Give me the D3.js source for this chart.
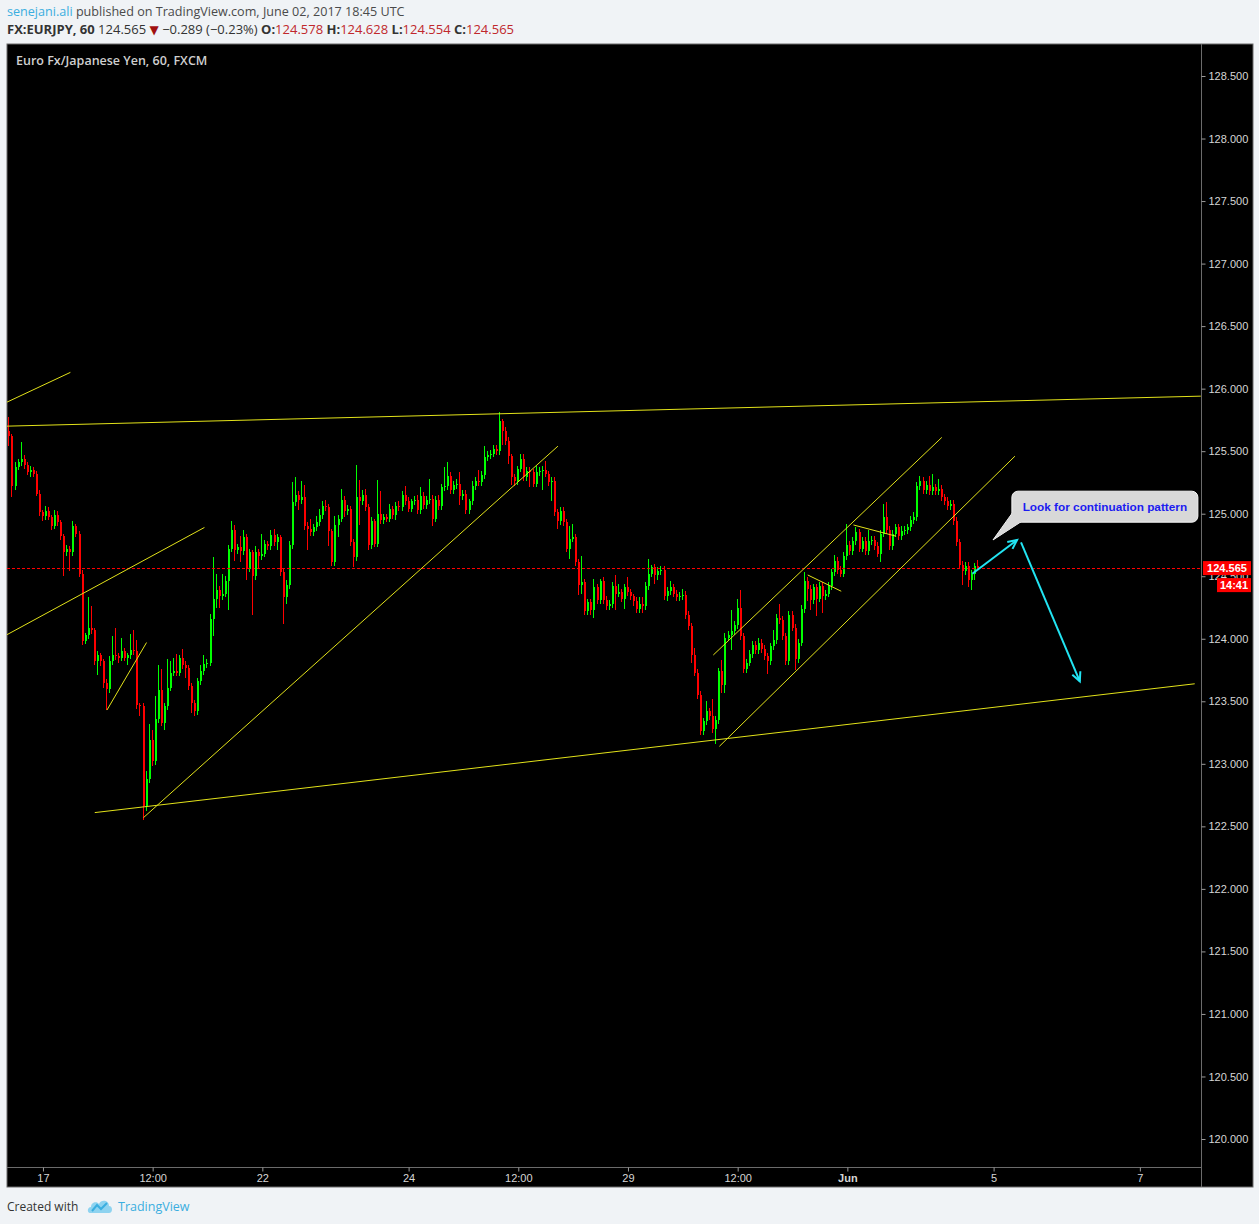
<!DOCTYPE html>
<html>
<head>
<meta charset="utf-8">
<script src="https://cdn.jsdelivr.net/npm/d3@7"></script>
<style>
body { margin: 0; background: #f0f3f6; }
svg { display: block; }
</style>
</head>
<body>
<svg id="chart"></svg>
<script>
// EUR/JPY hourly candles, 16 May 12:00 -> 2 Jun 19:00 (one value per hour)
var firstOpen = 125.60;
var closes = [
  125.66,125.62,125.22,125.37,125.41,125.44,125.39,125.33,125.35,125.32,
  125.16,125.01,124.98,125.02,124.97,124.90,124.99,124.93,124.82,124.69,
  124.72,124.69,124.90,124.84,124.52,123.98,124.03,124.09,124.07,123.82,
  123.87,123.82,123.65,123.60,123.82,123.87,123.86,123.85,123.90,123.85,
  123.87,123.91,123.90,123.47,123.46,122.66,122.88,123.19,123.02,123.36,
  123.59,123.33,123.46,123.61,123.73,123.74,123.73,123.85,123.79,123.77,
  123.62,123.49,123.42,123.66,123.74,123.80,123.81,124.16,124.32,124.39,
  124.34,124.36,124.46,124.72,124.87,124.71,124.73,124.70,124.81,124.56,
  124.69,124.50,124.69,124.66,124.68,124.76,124.74,124.83,124.77,124.81,
  124.53,124.33,124.43,124.75,125.09,125.15,125.11,125.13,124.90,124.88,
  124.85,124.89,124.93,124.99,125.06,125.05,124.86,124.61,124.91,124.96,
  125.11,125.02,125.04,124.77,124.65,125.13,125.10,125.15,125.05,124.75,
  124.94,124.76,125.00,124.95,124.97,124.96,125.04,124.99,125.06,125.05,
  125.15,125.10,125.04,125.10,125.11,125.03,125.14,125.07,125.11,125.12,
  124.96,125.11,125.06,125.21,125.22,125.30,125.19,125.23,125.24,125.14,
  125.16,125.03,125.10,125.22,125.26,125.25,125.31,125.45,125.47,125.48,
  125.52,125.50,125.74,125.66,125.58,125.46,125.29,125.26,125.36,125.44,
  125.29,125.34,125.33,125.24,125.33,125.34,125.35,125.32,125.25,125.26,
  125.01,124.94,125.02,124.93,124.72,124.80,124.81,124.61,124.43,124.45,
  124.22,124.29,124.23,124.41,124.31,124.46,124.31,124.26,124.28,124.42,
  124.36,124.37,124.32,124.41,124.37,124.34,124.30,124.24,124.28,124.26,
  124.42,124.52,124.57,124.51,124.54,124.55,124.34,124.38,124.41,124.36,
  124.33,124.34,124.35,124.19,124.10,123.87,123.73,123.55,123.26,123.34,
  123.42,123.38,123.28,123.35,123.74,123.63,124.01,124.03,124.06,124.11,
  124.25,124.02,123.76,123.81,123.88,123.95,123.91,123.97,123.92,123.86,
  123.82,123.94,123.99,124.17,124.15,124.02,123.82,124.19,124.09,123.84,
  123.97,124.24,124.46,124.40,124.31,124.41,124.32,124.42,124.34,124.36,
  124.42,124.53,124.62,124.55,124.52,124.66,124.75,124.70,124.78,124.85,
  124.72,124.78,124.70,124.78,124.79,124.74,124.68,124.84,124.97,124.87,
  124.74,124.84,124.89,124.82,124.86,124.87,124.89,124.95,124.97,125.22,
  125.26,125.19,125.23,125.18,125.21,125.18,125.20,125.13,125.10,125.06,
  125.08,124.94,124.77,124.59,124.54,124.58,124.47,124.52,124.578,124.565
];
// wick lengths in pips (0.01) above / below each body
var wickUp = [
  14,11,2,4,3,13,3,2,3,2,2,3,2,4,3,2,4,3,2,2,
  3,2,4,2,2,3,2,24,17,2,3,2,2,3,4,15,22,3,11,3,
  2,13,16,9,2,3,6,13,8,18,20,17,3,23,9,11,14,2,7,3,
  2,3,2,3,5,7,3,4,33,13,3,16,4,3,7,4,3,9,6,3,
  3,2,5,3,16,3,2,4,5,3,2,3,4,3,16,14,3,13,10,3,
  8,3,5,5,4,5,3,2,7,3,9,3,3,2,3,26,14,4,5,3,
  3,2,27,18,3,3,4,2,3,4,3,7,3,2,3,4,7,3,3,16,
  3,3,4,3,15,11,3,3,4,9,3,3,2,4,3,9,3,9,3,3,
  3,3,7,2,3,3,2,3,2,4,4,3,3,3,5,3,3,7,2,3,
  3,3,3,3,3,10,11,3,3,21,3,3,3,7,3,2,3,3,3,3,
  9,7,3,3,8,3,2,3,5,5,3,12,2,3,3,3,3,3,5,3,
  3,3,5,3,3,3,6,3,3,3,8,3,14,3,3,9,4,3,17,3,
  7,14,3,3,3,3,3,4,3,3,3,3,8,3,11,3,3,3,3,3,
  3,3,7,3,3,3,3,3,3,3,3,3,5,3,3,3,17,3,3,4,
  3,3,3,9,3,3,3,3,11,12,3,3,3,3,4,3,3,3,4,3,
  4,3,3,7,11,3,8,3,3,3,3,3,3,3,3,3,3,3,3,5
];
var wickDn = [
  7,8,9,3,2,3,3,2,4,3,2,3,4,3,2,3,2,3,3,19,
  3,15,3,3,3,3,2,3,3,3,11,4,4,17,3,3,3,4,3,3,
  6,3,3,3,8,11,4,3,4,3,3,3,6,3,3,3,3,3,3,8,
  3,8,4,3,3,3,3,3,14,7,9,3,3,23,3,9,3,9,3,9,
  3,31,3,10,3,3,3,3,3,6,3,21,5,3,3,3,8,3,3,17,
  3,3,3,3,3,3,12,3,3,10,3,5,3,3,8,3,19,3,3,4,
  3,3,3,3,3,3,3,3,4,3,3,3,3,3,3,3,3,3,3,3,
  6,3,3,3,3,3,3,3,3,7,3,3,3,3,3,3,3,3,3,3,
  3,3,3,11,3,6,6,4,3,3,3,3,12,3,3,3,15,3,3,15,
  3,6,3,3,3,8,3,3,8,7,3,3,4,6,3,3,3,3,3,3,
  13,3,3,8,3,3,4,3,3,5,3,3,3,7,4,3,3,4,3,3,
  3,3,3,3,3,6,3,3,3,3,3,3,3,12,3,6,6,3,12,3,
  3,3,3,3,3,3,3,3,3,3,10,3,3,3,3,3,3,3,3,9,
  3,3,3,10,8,3,14,3,13,3,3,3,3,3,3,3,3,3,3,3,
  3,3,3,3,3,3,3,7,3,3,3,3,3,3,3,3,3,3,3,3,
  3,3,3,3,3,3,3,3,3,3,3,3,3,3,11,3,6,8,5,1
];

var priceTicks = [120.0,120.5,121.0,121.5,122.0,122.5,123.0,123.5,124.0,124.5,
                  125.0,125.5,126.0,126.5,127.0,127.5,128.0,128.5];
var timeTickIdx = [12, 48, 84, 132, 168, 204, 240, 276, 324, 372];
var timeTickLabels = ["17","12:00","22","24","12:00","29","12:00","Jun","5","7"];
var monthLabels = ["Jun"];

var lastPrice = 124.565;
var lastPriceText = "124.565";
var countdownText = "14:41";
var headerKeys = ["O:","H:","L:","C:"];
var headerVals = ["124.578","124.628","124.554","124.565"];

// user drawings: [hour index, price]
var trendLines = [
  [[0, 125.70], [392, 125.94]],
  [[29, 122.61], [390, 123.64]],
  [[0, 125.89], [21, 126.13]],
  [[0, 124.03], [65, 124.89]],
  [[33, 123.43], [46, 123.97]],
  [[45, 122.57], [181, 125.54]],
  [[232, 123.87], [307, 125.61]],
  [[234, 123.14], [331, 125.46]],
  [[263, 124.51], [274, 124.38]],
  [[278, 124.91], [292, 124.82]]
];
var arrows = [
  [[317, 124.52], [331.7, 124.79]],
  [[333, 124.77], [352.3, 123.66]]
];
var calloutText = "Look for continuation pattern";
var calloutAnchor = [330, 125.18];
var calloutTip = [323.8, 124.79];

var W = 1259, H = 1224;
var svg = d3.select("#chart").attr("width", W).attr("height", H);

var panel = {left: 7, top: 44, right: 1253, bottom: 1187};
var plot = {left: 7, top: 44, right: 1201, bottom: 1167};

var x = d3.scaleLinear().domain([0, 392]).range([6.4, 1200.8]);
var y = d3.scaleLinear().domain([120, 128.5]).range([1139, 76]);

// header
var hdr = svg.append("g").attr("font-family", "'Open Sans', sans-serif");
var l1 = hdr.append("text").attr("x", 7).attr("y", 16).attr("font-size", 12.6);
l1.append("tspan").attr("fill", "#3aaee0").text("senejani.ali");
l1.append("tspan").attr("fill", "#4a4a4a").text(" published on TradingView.com, June 02, 2017 18:45 UTC");
var l2 = hdr.append("text").attr("x", 7).attr("y", 34).attr("fill", "#333").attr("font-size", 13);
l2.append("tspan").attr("font-weight", "bold").text("FX:EURJPY, 60");
l2.append("tspan").text(" 124.565 ");
l2.append("tspan").attr("fill", "#a01010").attr("font-family", "DejaVu Sans").attr("font-size", 12).text("\u25BC");
l2.append("tspan").text(" \u22120.289 (\u22120.23%) ");
headerKeys.forEach(function(k, i) {
    l2.append("tspan").attr("font-weight", "bold").text(k);
    l2.append("tspan").attr("fill", "#c0282c").text(headerVals[i] + " ");
});

// panel background
svg.append("rect")
    .attr("x", panel.left).attr("y", panel.top)
    .attr("width", panel.right - panel.left).attr("height", panel.bottom - panel.top)
    .attr("fill", "#000").attr("stroke", "#6b6b6b").attr("stroke-width", 1);

svg.append("defs").append("clipPath").attr("id", "plotclip")
  .append("rect")
    .attr("x", plot.left).attr("y", plot.top)
    .attr("width", plot.right - plot.left).attr("height", plot.bottom - plot.top);

var g = svg.append("g").attr("clip-path", "url(#plotclip)");

// candles
var candles = closes.map(function(c, i) {
    var o = i === 0 ? firstOpen : closes[i - 1];
    return {
        i: i, o: o, c: c,
        h: Math.max(o, c) + wickUp[i] / 100,
        l: Math.min(o, c) - wickDn[i] / 100
    };
});

var cg = g.append("g").attr("shape-rendering", "crispEdges");
cg.selectAll("rect.wick")
    .data(candles)
    .enter().append("rect")
    .attr("class", "wick")
    .attr("x", function(d) { return Math.round(x(d.i)) - 1; })
    .attr("width", 1)
    .attr("y", function(d) { return y(d.h); })
    .attr("height", function(d) { return Math.max(1, y(d.l) - y(d.h)); })
    .attr("fill", function(d) { return d.c >= d.o ? "#00ff00" : "#ff0000"; });

cg.selectAll("rect.body")
    .data(candles)
    .enter().append("rect")
    .attr("class", "body")
    .attr("x", function(d) { return Math.round(x(d.i)) - 1; })
    .attr("width", 2)
    .attr("y", function(d) { return y(Math.max(d.o, d.c)); })
    .attr("height", function(d) { return Math.max(1, Math.abs(y(d.o) - y(d.c))); })
    .attr("fill", function(d) { return d.c >= d.o ? "#00ff00" : "#ff0000"; });

// last price line
g.append("line")
    .attr("x1", plot.left).attr("x2", plot.right)
    .attr("y1", Math.round(y(lastPrice)) + 0.5).attr("y2", Math.round(y(lastPrice)) + 0.5)
    .attr("stroke", "#ff0000").attr("stroke-dasharray", "3,2");

// trend lines
g.selectAll("line.trend")
    .data(trendLines)
    .enter().append("line")
    .attr("class", "trend")
    .attr("x1", function(d) { return x(d[0][0]); })
    .attr("y1", function(d) { return y(d[0][1]); })
    .attr("x2", function(d) { return x(d[1][0]); })
    .attr("y2", function(d) { return y(d[1][1]); })
    .attr("stroke", "#e2e21a").attr("stroke-width", 1);

// arrows
arrows.forEach(function(a) {
    var x1 = x(a[0][0]), y1 = y(a[0][1]), x2 = x(a[1][0]), y2 = y(a[1][1]);
    var ang = Math.atan2(y2 - y1, x2 - x1), len = 10, spread = 0.45;
    g.append("line")
        .attr("x1", x1).attr("y1", y1).attr("x2", x2).attr("y2", y2)
        .attr("stroke", "#22e4f2").attr("stroke-width", 2);
    g.append("path")
        .attr("d", "M" + (x2 - len * Math.cos(ang - spread)) + "," + (y2 - len * Math.sin(ang - spread)) +
                   "L" + x2 + "," + y2 +
                   "L" + (x2 - len * Math.cos(ang + spread)) + "," + (y2 - len * Math.sin(ang + spread)))
        .attr("fill", "none").attr("stroke", "#22e4f2").attr("stroke-width", 2);
});

// callout
var bx = x(calloutAnchor[0]), by = y(calloutAnchor[1]), bw = 186, bh = 31;
var tx = x(calloutTip[0]), ty = y(calloutTip[1]);
var callout = g.append("g");
callout.append("path")
    .attr("d", "M" + (bx + 1) + "," + (by + bh - 10) + "L" + tx + "," + ty + "L" + (bx + 10) + "," + (by + bh - 1) + "Z")
    .attr("fill", "#d8d8d8").attr("stroke", "#f4f4f4").attr("stroke-width", 1);
callout.append("rect")
    .attr("x", bx).attr("y", by).attr("width", bw).attr("height", bh)
    .attr("rx", 6).attr("fill", "#d8d8d8").attr("stroke", "#f4f4f4").attr("stroke-width", 1);
callout.append("path")
    .attr("d", "M" + (bx + 1.5) + "," + (by + bh - 11) + "L" + (tx + 3) + "," + (ty - 2) + "L" + (bx + 11) + "," + (by + bh - 1.5) + "Z")
    .attr("fill", "#d8d8d8");
callout.append("text")
    .attr("x", bx + bw / 2).attr("y", by + bh / 2 + 4)
    .attr("text-anchor", "middle")
    .attr("font-family", "'Liberation Sans', Arial, sans-serif")
    .attr("font-weight", "bold").attr("font-size", 11.8)
    .attr("fill", "#1c1cf0")
    .text(calloutText);

// title
svg.append("text")
    .attr("x", 16).attr("y", 65)
    .attr("font-family", "'Open Sans', sans-serif").attr("font-size", 12.5).attr("font-weight", 600)
    .attr("fill", "#cfcfcf")
    .text("Euro Fx/Japanese Yen, 60, FXCM");

// separators
svg.append("line").attr("x1", plot.right + 0.5).attr("x2", plot.right + 0.5)
    .attr("y1", panel.top).attr("y2", panel.bottom).attr("stroke", "#6b6b6b");
svg.append("line").attr("x1", panel.left).attr("x2", plot.right)
    .attr("y1", plot.bottom + 0.5).attr("y2", plot.bottom + 0.5).attr("stroke", "#6b6b6b");

// price axis
var yAxis = d3.axisRight(y)
    .tickValues(priceTicks)
    .tickFormat(d3.format(".3f"))
    .tickSize(4).tickPadding(3);
var ya = svg.append("g").attr("transform", "translate(" + (plot.right + 0.5) + ",0)").call(yAxis);
ya.select(".domain").remove();
ya.selectAll("line").attr("stroke", "#9a9a9a");
ya.selectAll("text")
    .attr("fill", "#d6d6d6")
    .attr("font-family", "'Liberation Sans', Arial, sans-serif").attr("font-size", 11);

// time axis
var xAxis = d3.axisBottom(x)
    .tickValues(timeTickIdx)
    .tickFormat(function(d, i) { return timeTickLabels[i]; })
    .tickSize(4).tickPadding(3);
var xa = svg.append("g").attr("transform", "translate(0," + (plot.bottom + 0.5) + ")").call(xAxis);
xa.select(".domain").remove();
xa.selectAll("line").attr("stroke", "#9a9a9a");
xa.selectAll("text")
    .attr("fill", "#d6d6d6")
    .attr("font-family", "'Liberation Sans', Arial, sans-serif").attr("font-size", 11)
    .attr("font-weight", function(d, i) { return monthLabels.indexOf(timeTickLabels[i]) >= 0 ? "bold" : "normal"; });

// price and countdown labels
var py = y(lastPrice);
svg.append("rect").attr("x", plot.right + 2).attr("y", py - 7).attr("width", 48).attr("height", 14).attr("fill", "#ff0000");
svg.append("text").attr("x", plot.right + 26).attr("y", py + 4)
    .attr("text-anchor", "middle").attr("fill", "#fff").attr("font-weight", "bold")
    .attr("font-family", "'Liberation Sans', Arial, sans-serif").attr("font-size", 11)
    .text(lastPriceText);
svg.append("rect").attr("x", plot.right + 16).attr("y", py + 10).attr("width", 34).attr("height", 14).attr("fill", "#ff0000");
svg.append("text").attr("x", plot.right + 33).attr("y", py + 21)
    .attr("text-anchor", "middle").attr("fill", "#fff").attr("font-weight", "bold")
    .attr("font-family", "'Liberation Sans', Arial, sans-serif").attr("font-size", 11)
    .text(countdownText);

// footer
var ft = svg.append("g");
ft.append("text").attr("x", 7).attr("y", 1211)
    .attr("font-family", "'Open Sans', sans-serif").attr("font-size", 12).attr("fill", "#333")
    .text("Created with");
var logo = ft.append("g").attr("transform", "translate(88,1199)");
logo.append("path")
    .attr("d", "M2,14 C-1,14 -1,8 3,8 C3,3 9,2 11,5 C13,0 21,1 21,7 C25,7 25,14 21,14 Z")
    .attr("fill", "#8ed3f0");
logo.append("path")
    .attr("d", "M4,12 L9,6 L13,10 L19,4")
    .attr("fill", "none").attr("stroke", "#3aaee0").attr("stroke-width", 2);
ft.append("text").attr("x", 118).attr("y", 1211)
    .attr("font-family", "'Open Sans', sans-serif").attr("font-size", 12.5).attr("fill", "#3aaee0")
    .text("TradingView");
</script>
</body>
</html>
